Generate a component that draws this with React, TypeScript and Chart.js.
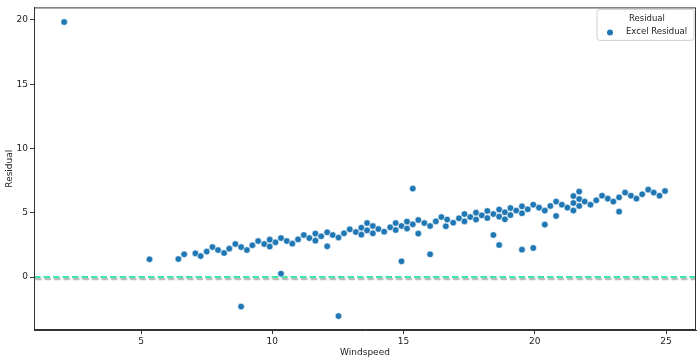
import React, { useEffect, useRef } from "react";
import { Chart, registerables } from "chart.js";

Chart.register(...registerables);

// Windspeed (x) and Excel residual (y) readings
const WINDSPEED: number[] = [
  2.07, 5.32, 6.42, 6.64, 7.07, 7.27, 7.5, 7.72, 7.93, 8.16, 8.36, 8.59, 8.81, 9.03, 9.24, 9.46, 9.69,
  9.9, 9.9, 10.12, 10.33, 10.55, 10.76, 10.98, 11.2, 11.41, 11.64, 11.64, 11.86, 12.09, 12.09, 12.3,
  12.52, 12.73, 12.95, 13.18, 13.39, 13.39, 13.61, 13.61, 13.83, 13.83, 14.04, 14.26, 14.49, 14.7,
  14.7, 14.92, 15.13, 15.13, 15.35, 15.56, 15.56, 15.79, 16.01, 16.23, 16.44, 16.61, 16.66, 16.89,
  17.11, 17.32, 17.32, 17.54, 17.76, 17.76, 17.98, 18.19, 18.19, 18.42, 18.64, 18.64, 18.86, 18.86,
  19.07, 19.07, 19.29, 19.51, 19.51, 19.73, 19.94, 20.16, 20.38, 20.59, 20.81, 21.03, 21.24, 21.47,
  21.47, 21.47, 21.69, 21.69, 21.69, 21.9, 22.12, 22.34, 22.56, 22.78, 22.99, 23.21, 23.44, 23.66,
  23.87, 24.09, 24.32, 24.53, 24.75, 24.96,
  8.81, 10.33, 12.52, 14.92, 15.35, 16.01, 18.42, 18.64, 19.51, 19.94, 20.38, 20.81, 23.21,
];
const EXCEL_RESIDUAL: number[] = [
  19.84, 1.38, 1.4, 1.77, 1.84, 1.63, 1.98, 2.33, 2.1, 1.87, 2.21, 2.57, 2.33, 2.1, 2.47, 2.8, 2.57,
  2.91, 2.37, 2.7, 3.03, 2.8, 2.6, 2.93, 3.27, 3.03, 3.38, 2.83, 3.17, 3.48, 2.39, 3.27,
  3.07, 3.4, 3.71, 3.5, 3.84, 3.3, 4.2, 3.63, 3.97, 3.4, 3.74, 3.53, 3.87, 4.2,
  3.66, 3.97, 4.31, 3.77, 4.1, 4.44, 3.38, 4.2, 3.97, 4.33, 4.67, 3.95, 4.47, 4.23,
  4.57, 4.9, 4.33, 4.67, 5.01, 4.47, 4.8, 5.14, 4.59, 4.9, 5.25, 4.7, 5.04, 4.49,
  5.37, 4.82, 5.17, 5.5, 4.96, 5.27, 5.63, 5.4, 5.17, 5.53, 5.87, 5.63, 5.4, 6.3,
  5.76, 5.17, 6.65, 6.07, 5.53, 5.87, 5.63, 5.97, 6.33, 6.1, 5.87, 6.2, 6.57, 6.33,
  6.1, 6.44, 6.8, 6.57, 6.33, 6.69,
  -2.3, 0.26, -3.04, 1.22, 6.88, 1.77, 3.27, 2.49, 2.13, 2.26, 4.08, 4.75, 5.09,
];

// Residual reference line (zero across the whole x range)
const RESIDUAL_X: number[] = [0.92, 26.14];
const RESIDUAL_Y: number[] = [0, 0];

const X_MIN = 0.92;
const X_MAX = 26.14;
const Y_MIN = -4.12;
const Y_MAX = 20.98;
const X_TICKS: number[] = [5, 10, 15, 20, 25];
const Y_TICKS: number[] = [0, 5, 10, 15, 20];

const LEGEND_LABELS: string[] = ["Residual", "Excel Residual"];

const BLUE = "#1f77b4";
const LINE_COLOR = "#3ee6a6";
const FONT = "'DejaVu Sans', sans-serif";

export default function App() {
  const ref = useRef<HTMLCanvasElement | null>(null);

  useEffect(() => {
    if (!ref.current) return;

    const shadowPlugin = {
      id: "lineShadow",
      beforeDatasetDraw(chart: any, args: any) {
        if (args.index === 1) {
          const ctx = chart.ctx;
          ctx.save();
          ctx.shadowColor = "rgba(0,0,0,0.35)";
          ctx.shadowOffsetY = 2;
          ctx.shadowOffsetX = 1;
          ctx.shadowBlur = 1.5;
        }
      },
      afterDatasetDraw(chart: any, args: any) {
        if (args.index === 1) chart.ctx.restore();
      },
    };

    const framePlugin = {
      id: "frameAndLegend",
      afterDraw(chart: any) {
        const { ctx, chartArea } = chart;
        const { left, right, top, bottom } = chartArea;
        ctx.save();
        ctx.strokeStyle = "#333333";
        ctx.lineWidth = 1;
        ctx.strokeRect(left + 0.5, top + 0.5, right - left - 1, bottom - top - 1);

        // legend box
        const bx = right - 99;
        const by = top + 2;
        const bw = 97;
        const bh = 31;
        const r = 3;
        ctx.beginPath();
        ctx.moveTo(bx + r, by);
        ctx.lineTo(bx + bw - r, by);
        ctx.quadraticCurveTo(bx + bw, by, bx + bw, by + r);
        ctx.lineTo(bx + bw, by + bh - r);
        ctx.quadraticCurveTo(bx + bw, by + bh, bx + bw - r, by + bh);
        ctx.lineTo(bx + r, by + bh);
        ctx.quadraticCurveTo(bx, by + bh, bx, by + bh - r);
        ctx.lineTo(bx, by + r);
        ctx.quadraticCurveTo(bx, by, bx + r, by);
        ctx.closePath();
        ctx.fillStyle = "rgba(255,255,255,0.8)";
        ctx.fill();
        ctx.strokeStyle = "#d0d0d0";
        ctx.stroke();

        ctx.fillStyle = "#222222";
        ctx.font = `8.5px ${FONT}`;
        ctx.textBaseline = "middle";
        ctx.textAlign = "left";
        ctx.fillText(LEGEND_LABELS[0], bx + 32, by + 9);
        ctx.fillText(LEGEND_LABELS[1], bx + 29, by + 22.5);
        ctx.beginPath();
        ctx.arc(bx + 13, by + 23, 3, 0, Math.PI * 2);
        ctx.fillStyle = BLUE;
        ctx.fill();
        ctx.restore();
      },
    };

    const chart = new Chart(ref.current, {
      type: "scatter",
      data: {
        datasets: [
          {
            label: LEGEND_LABELS[1],
            data: WINDSPEED.map((x, i) => ({ x, y: EXCEL_RESIDUAL[i] })),
            backgroundColor: BLUE,
            borderColor: "#ffffff",
            borderWidth: 0.6,
            pointRadius: 3.3,
            pointHoverRadius: 3.3,
            order: 0,
          },
          {
            type: "line",
            label: LEGEND_LABELS[0],
            data: RESIDUAL_X.map((x, i) => ({ x, y: RESIDUAL_Y[i] })),
            borderColor: LINE_COLOR,
            borderWidth: 2,
            borderDash: [6.5, 3],
            pointRadius: 0,
            showLine: true,
            fill: false,
            order: 1,
          } as any,
        ],
      },
      options: {
        responsive: false,
        animation: false,
        layout: { padding: { left: 0, right: 4, top: 7, bottom: 0 } },
        plugins: {
          legend: { display: false },
          tooltip: { enabled: false },
        },
        scales: {
          x: {
            type: "linear",
            min: X_MIN,
            max: X_MAX,
            afterBuildTicks: (s: any) => {
              s.ticks = X_TICKS.map((v) => ({ value: v }));
            },
            afterFit: (s: any) => {
              s.height = 30;
            },
            grid: { drawOnChartArea: false, drawTicks: true, tickLength: 4, color: "#333333" },
            border: { display: true, color: "#333333" },
            ticks: { color: "#222222", font: { family: FONT, size: 9 }, padding: 2, maxRotation: 0 },
            title: {
              display: true,
              text: "Windspeed",
              color: "#222222",
              font: { family: FONT, size: 9 },
              padding: { top: 0, bottom: 2 },
            },
          },
          y: {
            type: "linear",
            min: Y_MIN,
            max: Y_MAX,
            afterBuildTicks: (s: any) => {
              s.ticks = Y_TICKS.map((v) => ({ value: v }));
            },
            afterFit: (s: any) => {
              s.width = 34;
            },
            grid: { drawOnChartArea: false, drawTicks: true, tickLength: 4, color: "#333333" },
            border: { display: true, color: "#333333" },
            ticks: { color: "#222222", font: { family: FONT, size: 9 }, padding: 2 },
            title: {
              display: true,
              text: "Residual",
              color: "#222222",
              font: { family: FONT, size: 9 },
              padding: { top: 4, bottom: 0 },
            },
          },
        },
      },
      plugins: [shadowPlugin, framePlugin],
    });

    return () => chart.destroy();
  }, []);

  return (
    <div style={{ position: "fixed", left: 0, top: 0, width: 700, height: 360, background: "#fff" }}>
      <canvas ref={ref} width={700} height={360} />
    </div>
  );
}
